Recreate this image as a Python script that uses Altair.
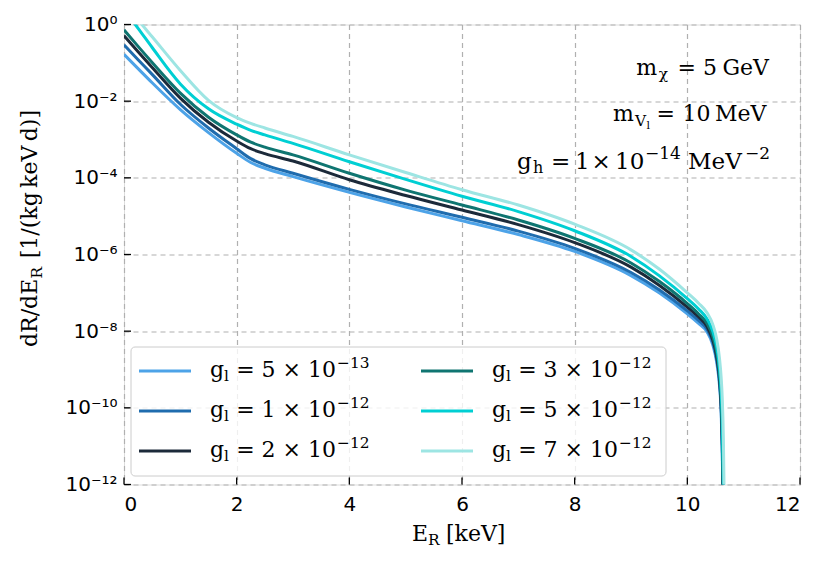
import altair as alt
import pandas as pd

# ---------------- data ----------------
energy_kev = [0, 0.25, 0.5, 1.0, 1.5, 2.0, 2.25, 2.5, 3.0, 4.0, 5.0, 6.0, 7.0, 8.0,
              9.0, 9.5, 10.0, 10.2, 10.35, 10.45, 10.52, 10.57, 10.6, 10.62, 10.64, 10.66]

# log10 of dR/dE_R for each coupling g_l
log_rate_5e13 = [-0.78, -1.15, -1.52, -2.22, -2.82, -3.36, -3.60, -3.75, -3.97, -4.38, -4.76, -5.12, -5.48, -5.92,
                 -6.55, -7.00, -7.55, -7.80, -8.02, -8.35, -8.80, -9.40, -10.1, -11.2, -13.0, -13.0]
log_rate_1e12 = [-0.53, -0.92, -1.30, -2.08, -2.70, -3.24, -3.50, -3.66, -3.88, -4.30, -4.68, -5.03, -5.39, -5.84,
                 -6.47, -6.92, -7.47, -7.72, -7.95, -8.28, -8.72, -9.30, -10.0, -11.0, -13.0, -13.0]
log_rate_2e12 = [-0.29, -0.71, -1.12, -1.92, -2.55, -3.04, -3.24, -3.37, -3.56, -4.05, -4.46, -4.84, -5.22, -5.69,
                 -6.33, -6.80, -7.37, -7.63, -7.88, -8.22, -8.65, -9.22, -9.90, -10.8, -12.8, -13.0]
log_rate_3e12 = [-0.14, -0.57, -0.99, -1.79, -2.42, -2.88, -3.07, -3.20, -3.40, -3.88, -4.32, -4.71, -5.10, -5.58,
                 -6.22, -6.70, -7.28, -7.55, -7.80, -8.13, -8.55, -9.10, -9.75, -10.6, -12.5, -13.0]
log_rate_5e12 = [0.38, -0.10, -0.60, -1.55, -2.20, -2.60, -2.76, -2.88, -3.10, -3.58, -4.04, -4.48, -4.88, -5.38,
                 -6.05, -6.55, -7.15, -7.42, -7.68, -8.00, -8.40, -8.95, -9.55, -10.3, -12.0, -13.0]
log_rate_7e12 = [0.58, 0.12, -0.32, -1.20, -1.98, -2.43, -2.58, -2.70, -2.92, -3.40, -3.86, -4.31, -4.71, -5.21,
                 -5.88, -6.38, -7.00, -7.27, -7.52, -7.82, -8.20, -8.70, -9.20, -9.75, -10.8, -13.0]

series_ids = ["5e-13", "1e-12", "2e-12", "3e-12", "5e-12", "7e-12"]
legend_mantissa = ["5", "1", "2", "3", "5", "7"]
legend_exponent = ["−13", "−12", "−12", "−12", "−12", "−12"]
series_colors = ["#4da3e8", "#1f6cae", "#1c2a3a", "#0f7571", "#00cfd3", "#9de5e3"]
series_logs = [log_rate_5e13, log_rate_1e12, log_rate_2e12, log_rate_3e12, log_rate_5e12, log_rate_7e12]

x_ticks = [0, 2, 4, 6, 8, 10, 12]
y_ticks = [1e0, 1e-2, 1e-4, 1e-6, 1e-8, 1e-10, 1e-12]

rows = []
for sid, logs in zip(series_ids, series_logs):
    for e, lv in zip(energy_kev, logs):
        rows.append({"energy": e, "rate": 10.0 ** lv, "series": sid})
df = pd.DataFrame(rows)

W, H = 676, 460
OX, OY = 124, 24.5   # page position of plot origin
SERIF = "DejaVu Serif"
SANS = "DejaVu Sans"
MAIN, SUB, SUBSUB = 22, 15.4, 11

x_scale = alt.Scale(domain=[0, 12], nice=False, zero=False)
y_scale = alt.Scale(type="log", domain=[1e-12, 1], nice=False)

y_label_expr = ("['10⁰','10⁻¹','10⁻²','10⁻³','10⁻⁴','10⁻⁵','10⁻⁶','10⁻⁷','10⁻⁸',"
                "'10⁻⁹','10⁻¹⁰','10⁻¹¹','10⁻¹²'][-round(log(datum.value)/LN10)]")

lines = alt.Chart(df).mark_line(strokeWidth=3, clip=True, interpolate="monotone").encode(
    x=alt.X("energy:Q", scale=x_scale,
            axis=alt.Axis(values=x_ticks, title=None, grid=True, ticks=False, tickSize=0,
                          domain=False, labelFont=SANS, labelFontSize=20, labelColor="black",
                          labelPadding=10, format="d", gridColor="#b0b0b0", gridDash=[5, 4],
                          gridWidth=1.2)),
    y=alt.Y("rate:Q", scale=y_scale,
            axis=alt.Axis(values=y_ticks, title=None, grid=True, ticks=False, tickSize=0,
                          domain=False, labelFont=SANS, labelFontSize=20, labelColor="black",
                          labelPadding=7, labelExpr=y_label_expr, gridColor="#b0b0b0",
                          gridDash=[5, 4], gridWidth=1.2)),
    color=alt.Color("series:N", scale=alt.Scale(domain=series_ids, range=series_colors),
                    legend=None),
)

ytick_df = pd.DataFrame({"rate": y_ticks})
xtick_df = pd.DataFrame({"energy": x_ticks})
yticks = alt.Chart(ytick_df).mark_rule(color="black", strokeWidth=1.3).encode(
    y=alt.Y("rate:Q", scale=y_scale), x=alt.value(0), x2=alt.value(7))
xticks = alt.Chart(xtick_df).mark_rule(color="black", strokeWidth=1.3).encode(
    x=alt.X("energy:Q", scale=x_scale), y=alt.value(H), y2=alt.value(H - 7))

one = pd.DataFrame({"k": [0]})


def txt(t, px, py, fs, align="left", angle=0):
    return alt.Chart(one).mark_text(text=t, font=SERIF, fontSize=fs, color="black", align=align,
                                    baseline="alphabetic", angle=angle).encode(
        x=alt.value(px - OX), y=alt.value(py - OY))


# text pieces: (text, page_x, page_baseline_y, size, align, angle)
pieces = [
    # m_chi = 5 GeV
    ("GeV", 769, 75, MAIN, "right", 0), ("5", 717, 75, MAIN, "right", 0),
    ("=", 696, 75, MAIN, "right", 0), ("χ", 668, 79, SUB, "right", 0),
    ("m", 657, 75, MAIN, "right", 0),
    # m_{V_l} = 10 MeV
    ("m", 613, 120.5, MAIN, "left", 0), ("V", 635, 126, SUB, "left", 0),
    ("l", 646.5, 128.5, SUBSUB, "left", 0), ("=", 656.5, 120.5, MAIN, "left", 0),
    ("10", 682.5, 120.5, MAIN, "left", 0), ("MeV", 715, 120.5, MAIN, "left", 0),
    # g_h = 1 x 10^-14 MeV^-2
    ("g", 517, 169, 23, "left", 0), ("h", 533, 173, 16, "left", 0),
    ("=", 551, 169, 23, "left", 0), ("1", 575, 169, 23, "left", 0),
    ("×", 591.5, 169, 23, "left", 0), ("10", 615, 169, 23, "left", 0),
    ("−14", 645, 159, 17, "left", 0), ("MeV", 688, 169, 23, "left", 0),
    ("−2", 745, 159, 17, "left", 0),
    # x title
    ("E", 412, 541, MAIN, "left", 0), ("R", 428, 545, SUB, "left", 0),
    ("[keV]", 446, 541, MAIN, "left", 0),
    # y title
    ("dR/dE", 36.5, 347, MAIN, "left", 270), ("R", 41.5, 278.5, SUB, "left", 270),
    ("[1/(kg\u2009keV\u2009d)]", 36.5, 110, MAIN, "right", 270),
]
texts = [txt(*p) for p in pieces]

# legend (two columns, column-major as in the reference)
legend_layers = [
    alt.Chart(one).mark_rect(cornerRadius=4, stroke="#cccccc", strokeWidth=1, fill="white",
                             fillOpacity=0.8).encode(
        x=alt.value(131 - OX), x2=alt.value(666 - OX), y=alt.value(347 - OY), y2=alt.value(476 - OY))
]
col_start = [139, 421]
row_y = [371, 411, 451]
for i, (man, ex, colr) in enumerate(zip(legend_mantissa, legend_exponent, series_colors)):
    c, r = divmod(i, 3)
    s, yy = col_start[c], row_y[r]
    legend_layers.append(
        alt.Chart(one).mark_rule(color=colr, strokeWidth=3).encode(
            x=alt.value(s - OX), x2=alt.value(s + 52 - OX), y=alt.value(yy - OY)))
    legend_layers += [
        txt("g", s + 71, yy + 6, MAIN, "left"),
        txt("l", s + 85, yy + 10, SUB, "left"),
        txt(f"= {man} × 10", s + 197, yy + 6, MAIN, "right"),
        txt(ex, s + 198, yy - 3, SUB, "left"),
    ]

chart = alt.layer(lines, yticks, xticks, *legend_layers, *texts).properties(
    width=W, height=H,
    autosize=alt.AutoSizeParams(type="none"),
    padding={"left": OX - 8, "top": OY - 8, "right": 20, "bottom": 70},
).configure_view(stroke="black", strokeWidth=1.5).configure(background="white")

chart.save("out.html", embed_options={"renderer": "svg", "actions": False})
